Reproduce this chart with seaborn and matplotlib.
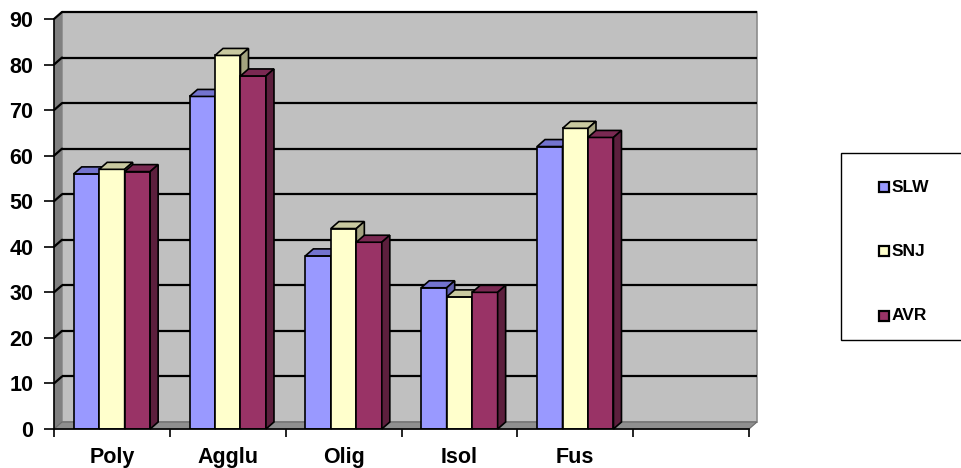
import numpy as np
import pandas as pd
import seaborn as sns
import matplotlib
matplotlib.use("Agg")
import matplotlib.pyplot as plt
from matplotlib.patches import Polygon, Rectangle

# --- data ---------------------------------------------------------------
categories = ["Poly", "Agglu", "Olig", "Isol", "Fus"]
slots = categories + [""]          # one empty slot at the right end
series = ["SLW", "SNJ", "AVR"]
slw = [56, 73, 38, 31, 62]
snj = [57, 82, 44, 29, 66]
avr = [56.5, 77.5, 41, 30, 64]
y_ticks = list(range(0, 91, 10))

front_colors = {"SLW": "#9999ff", "SNJ": "#ffffcc", "AVR": "#993366"}
top_colors = {"SLW": "#7373cf", "SNJ": "#c9c9a0", "AVR": "#7a2952"}
side_colors = {"SLW": "#5f5fae", "SNJ": "#a3a37f", "AVR": "#5c1f3d"}

df = pd.DataFrame({
    "category": categories * 3,
    "series": [s for s in series for _ in categories],
    "value": slw + snj + avr,
})

# --- figure -------------------------------------------------------------
W, H = 961, 468
sns.set_theme(style="white")
plt.rcParams["font.family"] = ["Liberation Sans", "DejaVu Sans"]
plt.rcParams["font.weight"] = "bold"

fig = plt.figure(figsize=(W / 100, H / 100), dpi=100)
fig.patch.set_facecolor("white")
ax = fig.add_axes([54 / W, (H - 429) / H, 695 / W, 410 / H])
ax.set_facecolor("none")

sns.barplot(data=df, x="category", y="value", hue="series", order=categories,
            hue_order=series, palette=front_colors, width=0.66, saturation=1,
            edgecolor="black", linewidth=1.2, legend=False, ax=ax)
bars = list(ax.patches)

ax.set_xlim(-0.5, len(slots) - 0.5)
ax.set_ylim(0, 90)

# depth offset of the 3-D look, in data units
dx = 8 * (len(slots) / 695)
dy = 7 * (90 / 410)
x0, x1 = -0.5, len(slots) - 0.5

# walls and floor
ax.add_patch(Polygon([(x0 + dx, dy), (x1 + dx, dy), (x1 + dx, 90 + dy), (x0 + dx, 90 + dy)],
                     closed=True, facecolor="#c0c0c0", edgecolor="#8c8c8c",
                     linewidth=1.2, zorder=0.5, clip_on=False))
ax.add_patch(Polygon([(x0, 0), (x0 + dx, dy), (x0 + dx, 90 + dy), (x0, 90)],
                     closed=True, facecolor="#808080", edgecolor="none",
                     zorder=0.6, clip_on=False))
ax.add_patch(Polygon([(x0, 0), (x1, 0), (x1 + dx, dy), (x0 + dx, dy)],
                     closed=True, facecolor="#8f8f8f", edgecolor="#6a6a6a",
                     linewidth=0.8, zorder=0.6, clip_on=False))

# gridlines on back wall and left wall
for t in y_ticks:
    if t == 0:
        continue
    ax.plot([x0 + dx, x1 + dx], [t + dy, t + dy], color="black", lw=1.6,
            zorder=0.8, clip_on=False, solid_capstyle="butt")
    ax.plot([x0, x0 + dx], [t, t + dy], color="black", lw=1.6,
            zorder=0.8, clip_on=False)

# top and side faces of every bar, ordered left to right
order = sorted(range(len(bars)), key=lambda i: bars[i].get_x())
n_cat = len(categories)
for rank, i in enumerate(order):
    b = bars[i]
    s = series[i // n_cat]
    bx, bw, bh = b.get_x(), b.get_width(), b.get_height()
    z = 2 + rank * 0.01
    b.set_zorder(z)
    top = Polygon([(bx, bh), (bx + bw, bh), (bx + bw + dx, bh + dy), (bx + dx, bh + dy)],
                  closed=True, facecolor=top_colors[s], edgecolor="black",
                  linewidth=1.2, zorder=z, clip_on=False)
    side = Polygon([(bx + bw, 0), (bx + bw + dx, dy), (bx + bw + dx, bh + dy), (bx + bw, bh)],
                   closed=True, facecolor=side_colors[s], edgecolor="black",
                   linewidth=1.2, zorder=z, clip_on=False)
    ax.add_patch(top)
    ax.add_patch(side)

# axes
for sp in ["top", "right"]:
    ax.spines[sp].set_visible(False)
for sp in ["left", "bottom"]:
    ax.spines[sp].set_color("black")
    ax.spines[sp].set_linewidth(1.2)
    ax.spines[sp].set_zorder(5)

ax.set_yticks(y_ticks)
ax.set_yticklabels([str(t) for t in y_ticks])
ax.tick_params(axis="y", direction="out", length=7, width=1.2, color="black",
               pad=8, labelsize=15.5, labelcolor="black", left=True)

ax.set_xticks(range(len(slots)))
ax.set_xticklabels(slots)
ax.set_xticks(np.arange(-0.5, len(slots), 1.0), minor=True)
ax.tick_params(axis="x", which="major", length=0, pad=13, labelsize=15.5,
               labelcolor="black")
ax.tick_params(axis="x", which="minor", direction="out", length=6, width=1.2,
               color="black", bottom=True)
for lab in ax.get_xticklabels() + ax.get_yticklabels():
    lab.set_fontweight("bold")
ax.set_xlabel("")
ax.set_ylabel("")

# legend box (runs off the right edge)
def fx(px):
    return px / W

def fy(py):
    return 1 - py / H

fig.add_artist(Rectangle((fx(841), fy(340)), fx(140), (340 - 153) / H,
                         transform=fig.transFigure, facecolor="white",
                         edgecolor="black", linewidth=1.0))
for s, yc in zip(series, [187, 251, 316]):
    fig.add_artist(Rectangle((fx(879), fy(yc + 5)), fx(10), 10 / H,
                             transform=fig.transFigure, facecolor=front_colors[s],
                             edgecolor="black", linewidth=1.6))
    fig.text(fx(892), fy(yc), s, fontsize=12.5, fontweight="bold",
             va="center", ha="left", color="black")

fig.savefig("out.png", dpi=100)
